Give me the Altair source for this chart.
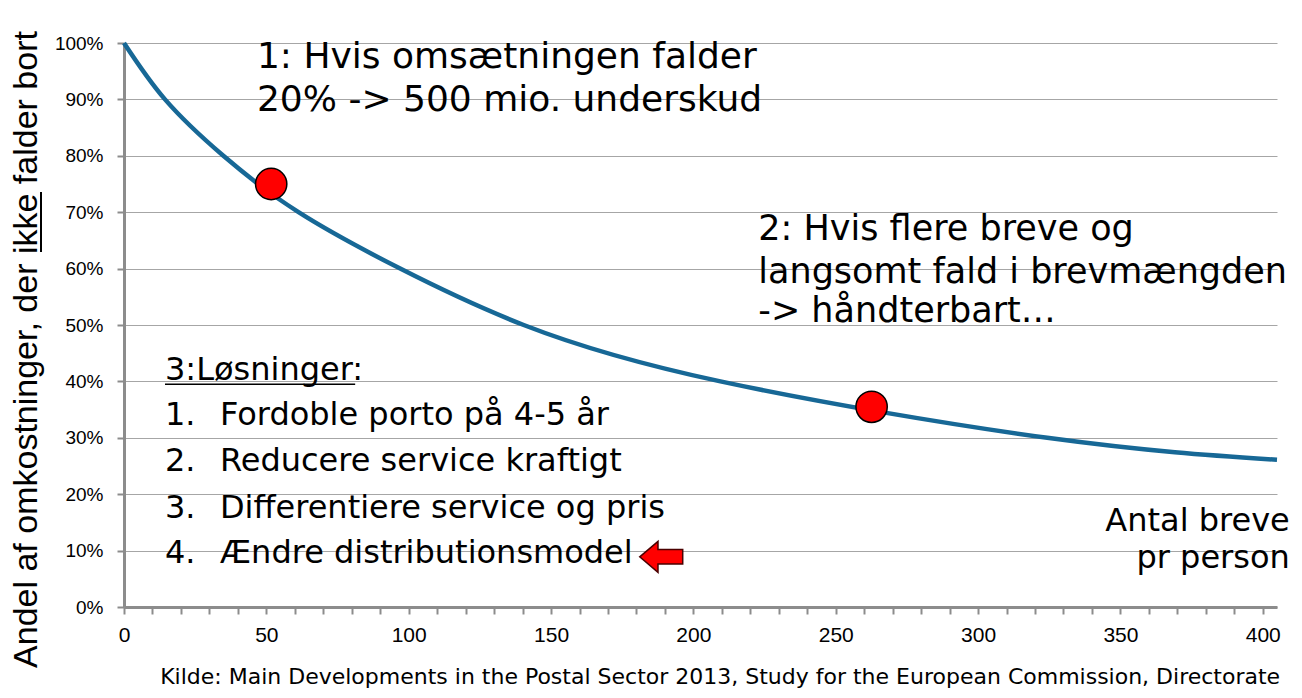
import altair as alt
import pandas as pd

# ---- data ----
curve_x = [0, 14.4, 34.9, 61.3, 97.0, 140.4, 209.5, 324.3, 405.0]
curve_y = [100, 90, 80, 70, 60, 50, 40, 30, 26.1]

marker_x = [51.7, 262.6]
marker_y = [75.0, 35.5]

arrow_x = [188.7]
arrow_y = [8.9]

x_ticks = list(range(0, 410, 10))
y_ticks = list(range(0, 101, 10))

y_title = "Andel af omkostninger, der ikke falder bort"

note1_text = ["1: Hvis omsætningen falder", "20% -> 500 mio. underskud"]
note1_x = [46.7, 46.7]
note1_y = [95.5, 87.9]

note2_text = ["2: Hvis flere breve og", "langsomt fald i brevmængden", "-> håndterbart…"]
note2_x = [222.8, 222.8, 222.8]
note2_y = [65.1, 57.4, 50.5]

list_text = ["3:Løsninger:", "1.", "Fordoble porto på 4-5 år", "2.", "Reducere service kraftigt",
             "3.", "Differentiere service og pris", "4.", "Ændre distributionsmodel"]
list_x = [14.4, 14.4, 33.7, 14.4, 33.7, 14.4, 33.7, 14.4, 33.7]
list_y = [40.2, 32.3, 32.3, 24.1, 24.1, 15.8, 15.8, 7.8, 7.8]

xlab_text = ["Antal breve", "pr person"]
xlab_x = [409.5, 409.5]
xlab_y = [13.5, 6.9]

source_text = ["Kilde: Main Developments in the Postal Sector 2013, Study for the European Commission, Directorate"]
source_x = [12.7]
source_y = [-13.7]

underline_x = [14.4]
underline_x2 = [81.2]
underline_y = [39.5]

# ---- build ----
xs = alt.Scale(domain=[0, 405], nice=False, zero=False)
ys = alt.Scale(domain=[0, 100], nice=False)

x_axis = alt.Axis(values=x_ticks, labelExpr="datum.value % 50 === 0 ? datum.label : ''",
                  grid=False, domainColor="#8C8C8C", domainWidth=3, tickColor="#8C8C8C",
                  tickSize=7, tickWidth=2, labelFont="Liberation Sans", labelFontSize=21,
                  labelColor="#000000", labelPadding=10, labelOverlap=False, labelFlush=False,
                  title=None)

y_axis = alt.Axis(values=y_ticks, labelExpr="datum.value + '%'", grid=True,
                  gridColor="#A6A6A6", gridWidth=1, domainColor="#8C8C8C", domainWidth=3,
                  tickColor="#8C8C8C", tickSize=7, tickWidth=2, labelFont="Liberation Sans",
                  labelFontSize=19, labelColor="#000000", labelPadding=14, labelOverlap=False,
                  title=y_title, titleFont="Liberation Sans", titleFontSize=34,
                  titleFontWeight="normal", titleColor="#000000", titleAngle=270,
                  titleAlign="center", titleBaseline="alphabetic", titleX=-88, titleY=306)

X = alt.X("x:Q", scale=xs, axis=x_axis)
Y = alt.Y("y:Q", scale=ys, axis=y_axis)

curve_df = pd.DataFrame({"x": curve_x, "y": curve_y})
marker_df = pd.DataFrame({"x": marker_x, "y": marker_y})
arrow_df = pd.DataFrame({"x": arrow_x, "y": arrow_y})


def tdf(t, x, y):
    return pd.DataFrame({"t": t, "x": x, "y": y})


line = alt.Chart(curve_df).mark_line(color="#176896", strokeWidth=4.5, interpolate="natural").encode(
    x=X, y=Y)

markers = alt.Chart(marker_df).mark_point(filled=True, fill="#FF0000", stroke="#000000",
                                          strokeWidth=1.5, size=980, opacity=1, shape="circle").encode(
    x=X, y=Y)

arrow_path = "M -1 0 L -0.15 -0.72 L -0.15 -0.34 L 1 -0.34 L 1 0.34 L -0.15 0.34 L -0.15 0.72 Z"
arrow = alt.Chart(arrow_df).mark_point(filled=True, fill="#FF0000", stroke="#4A0000",
                                       strokeWidth=1.5, size=1849, opacity=1, shape=arrow_path).encode(
    x=X, y=Y)


def text_layer(df, size, font="DejaVu Sans", align="left"):
    return alt.Chart(df).mark_text(font=font, fontSize=size, align=align, baseline="alphabetic",
                                   color="#000000").encode(x=X, y=Y, text="t:N")


t1 = text_layer(tdf(note1_text, note1_x, note1_y), 36)
t2 = text_layer(tdf(note2_text, note2_x, note2_y), 35)
t3 = text_layer(tdf(list_text, list_x, list_y), 32)
t4 = text_layer(tdf(xlab_text, xlab_x, xlab_y), 32, align="right")
t5 = text_layer(tdf(source_text, source_x, source_y), 22)

uline = alt.Chart(pd.DataFrame({"x": underline_x, "x2": underline_x2, "y": underline_y})).mark_rule(
    color="#000000", strokeWidth=1.5).encode(x=X, x2="x2:Q", y=Y)

# underline of "ikke" in the rotated axis title (decoration)
title_uline = alt.Chart(pd.DataFrame({"k": [0]})).mark_rule(color="#000000", strokeWidth=2).encode(
    x=alt.value(-83), y=alt.value(149), y2=alt.value(209))

chart = alt.layer(line, markers, arrow, t1, t2, t3, t4, t5, uline, title_uline).properties(
    width=1153, height=564,
    padding={"left": 116, "top": 35, "right": 17, "bottom": 83},
    autosize=alt.AutoSizeParams(type="none"),
    background="#FFFFFF",
).configure_view(stroke=None)

chart.save("out.html", embed_options={"renderer": "svg", "actions": False})
